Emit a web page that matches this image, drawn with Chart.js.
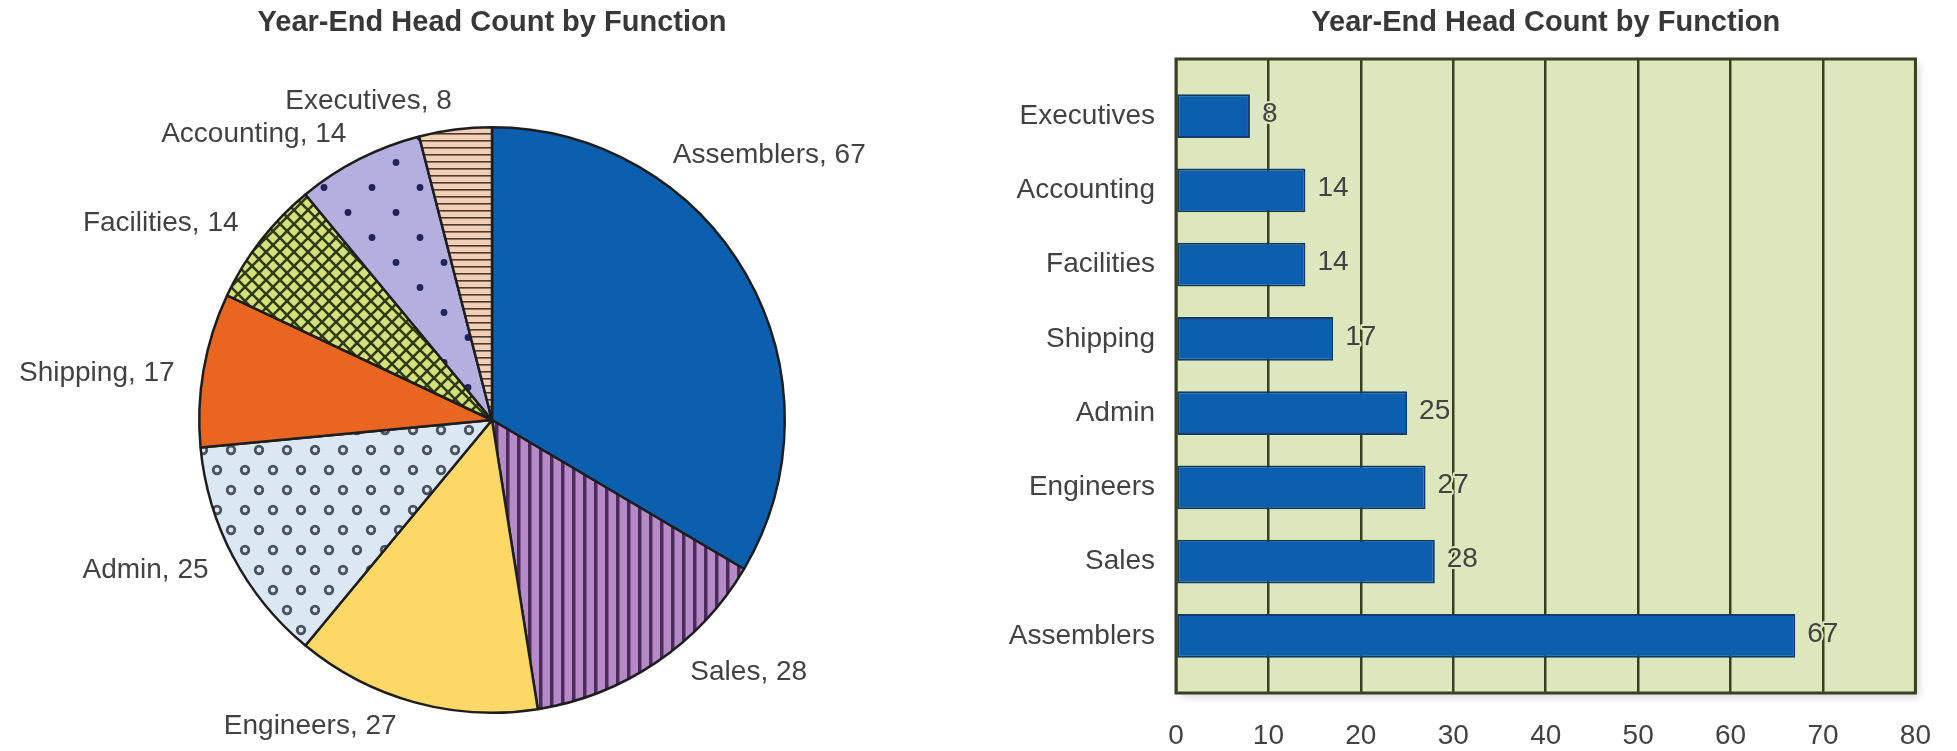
<!DOCTYPE html>
<html>
<head>
<meta charset="utf-8">
<title>Year-End Head Count by Function</title>
<script src="https://cdn.jsdelivr.net/npm/chart.js@4"></script>
<style>
  html, body { margin: 0; padding: 0; background: #fff; overflow: hidden; }
  #page   { position: relative; width: 1957px; height: 751px; }
  .box    { position: absolute; top: 0; height: 751px; }
  #pieBox { left: 0; width: 980px; }
  #barBox { left: 980px; width: 977px; }
</style>
</head>
<body>
<div id="page">
  <div class="box" id="pieBox"><canvas id="pieChart"></canvas></div>
  <div class="box" id="barBox"><canvas id="barChart"></canvas></div>
</div>
<script>
// Data
const TITLE      = 'Year-End Head Count by Function';
const CATEGORIES = ['Assemblers', 'Sales', 'Engineers', 'Admin', 'Shipping', 'Facilities', 'Accounting', 'Executives'];
const HEADCOUNT  = [67, 28, 27, 25, 17, 14, 14, 8];
const X_MIN  = 0;
const X_MAX  = 80;
const X_STEP = 10;

// bar chart lists top to bottom, i.e. the pie order reversed
const BAR_LABELS = [...CATEGORIES].reverse();
const BAR_VALUES = [...HEADCOUNT].reverse();

// Styles
const FONT    = '"Liberation Sans", Arial, Helvetica, sans-serif';
const FONT_PX = 28;
const TEXT    = '#424242';
const PLOT_BG = '#dce7bd';
const GRID    = '#37411f';
const FRAME   = '#3a4121';
const CAT_PAD = 0.27;   // extra space above first / below last bar, in categories

// label angle tweaks (degrees) so the pie labels sit where the original has them
const PIE_LABEL_NUDGE = [-26, -4, 2, 0, -1.5, 0, 0, 0];

Chart.defaults.font.family = FONT;
Chart.defaults.font.size   = FONT_PX;
Chart.defaults.color       = TEXT;

// Fill patterns
function pattern(w, h, bg, draw) {
  const c = document.createElement('canvas');
  c.width = w; c.height = h;
  const g = c.getContext('2d');
  g.fillStyle = bg;
  g.fillRect(0, 0, w, h);
  if (draw) draw(g, w, h);
  return g.createPattern(c, 'repeat');
}

const vStripes = pattern(11, 4, '#b68ac7', g => {
  g.fillStyle = '#4b2a5c';
  g.fillRect(0, 0, 3.5, 4);
});

const hStripes = pattern(4, 7, '#f0cfb6', g => {
  g.fillStyle = '#4e3a2c';
  g.fillRect(0, 0, 4, 1.6);
});

const crossHatch = pattern(14, 14, '#d4e07c', (g, s) => {
  g.strokeStyle = '#2f3b14';
  g.lineWidth = 2.6;
  [-s, 0, s].forEach(k => {
    g.beginPath(); g.moveTo(k, 0);     g.lineTo(k + s, s); g.stroke();
    g.beginPath(); g.moveTo(k + s, 0); g.lineTo(k, s);     g.stroke();
  });
});

const rings = pattern(28, 40, '#dce7f4', g => {
  g.strokeStyle = '#4a5460';
  g.lineWidth = 2.8;
  [[7, 10], [21, 30]].forEach(([x, y]) => {
    g.beginPath(); g.arc(x, y, 3.8, 0, Math.PI * 2); g.stroke();
  });
});

const dots = pattern(48, 50, '#b3b0df', g => {
  g.fillStyle = '#22225c';
  [[12, 12.5], [36, 37.5]].forEach(([x, y]) => {
    g.beginPath(); g.arc(x, y, 3.4, 0, Math.PI * 2); g.fill();
  });
});

const PIE_FILLS = ['#0b5fae', vStripes, '#fcd966', rings, '#e8661f', crossHatch, dots, hStripes];

// Plugins
const chartTitle = {
  id: 'chartTitle',
  afterDraw(chart) {
    const { ctx, chartArea: a } = chart;
    ctx.save();
    ctx.font = `bold 29px ${FONT}`;
    ctx.fillStyle = '#383838';
    ctx.textAlign = 'center';
    ctx.textBaseline = 'middle';
    ctx.fillText(TITLE, (a.left + a.right) / 2, 23);
    ctx.restore();
  }
};

const pieLabels = {
  id: 'pieLabels',
  afterDatasetsDraw(chart) {
    const { ctx } = chart;
    const ds = chart.data.datasets[0];
    ctx.save();
    ctx.font = `${FONT_PX}px ${FONT}`;
    ctx.fillStyle = TEXT;
    ctx.textBaseline = 'middle';
    chart.getDatasetMeta(0).data.forEach((arc, i) => {
      const { x, y, startAngle, endAngle, outerRadius } =
        arc.getProps(['x', 'y', 'startAngle', 'endAngle', 'outerRadius'], true);
      const mid = (startAngle + endAngle) / 2 + (PIE_LABEL_NUDGE[i] || 0) * Math.PI / 180;
      const r   = outerRadius + 28;
      ctx.textAlign = Math.cos(mid) >= 0 ? 'left' : 'right';
      ctx.fillText(`${chart.data.labels[i]}, ${ds.data[i]}`, x + Math.cos(mid) * r, y + Math.sin(mid) * r);
    });
    ctx.restore();
  }
};

const plotFrame = {
  id: 'plotFrame',
  beforeDraw(chart) {
    const { ctx, chartArea: a } = chart;
    ctx.save();
    ctx.shadowColor   = 'rgba(0,0,0,0.16)';
    ctx.shadowBlur    = 8;
    ctx.shadowOffsetX = 4;
    ctx.shadowOffsetY = 4;
    ctx.fillStyle = PLOT_BG;
    ctx.fillRect(a.left, a.top, a.width, a.height);
    ctx.restore();
  },
  afterDatasetsDraw(chart) {
    const { ctx, chartArea: a } = chart;
    ctx.save();
    ctx.strokeStyle = FRAME;
    ctx.lineWidth = 3;
    ctx.strokeRect(a.left, a.top, a.width, a.height);
    ctx.restore();
  }
};

const barValues = {
  id: 'barValues',
  afterDatasetsDraw(chart) {
    const { ctx } = chart;
    const ds = chart.data.datasets[0];
    ctx.save();
    ctx.font = `${FONT_PX}px ${FONT}`;
    ctx.textAlign = 'left';
    ctx.textBaseline = 'middle';
    ctx.lineJoin = 'round';
    chart.getDatasetMeta(0).data.forEach((bar, i) => {
      const tx = bar.x + 12, ty = bar.y - 2;
      ctx.strokeStyle = PLOT_BG;
      ctx.lineWidth = 4;
      ctx.strokeText(String(ds.data[i]), tx, ty);
      ctx.fillStyle = TEXT;
      ctx.fillText(String(ds.data[i]), tx, ty);
    });
    ctx.restore();
  }
};

// Pie
new Chart(document.getElementById('pieChart'), {
  type: 'pie',
  data: {
    labels: CATEGORIES,
    datasets: [{ data: HEADCOUNT, backgroundColor: PIE_FILLS, borderColor: '#1e1e1e', borderWidth: 2.5 }]
  },
  options: {
    responsive: true,
    maintainAspectRatio: false,
    animation: false,
    events: [],
    layout: { padding: { left: 198, right: 194, top: 126, bottom: 37 } },
    plugins: { legend: { display: false }, tooltip: { enabled: false } }
  },
  plugins: [pieLabels, chartTitle]
});

// Bars
new Chart(document.getElementById('barChart'), {
  type: 'bar',
  data: {
    labels: BAR_LABELS,
    datasets: [{
      data: BAR_VALUES,
      backgroundColor: '#0b5fae',
      borderColor: '#173b66',
      borderWidth: 2,
      borderSkipped: false,
      barPercentage: 0.59,
      categoryPercentage: 1
    }]
  },
  options: {
    indexAxis: 'y',
    responsive: true,
    maintainAspectRatio: false,
    animation: false,
    events: [],
    layout: { padding: { top: 59, right: 29, bottom: 0, left: 0 } },
    plugins: { legend: { display: false }, tooltip: { enabled: false } },
    scales: {
      x: {
        min: X_MIN,
        max: X_MAX,
        ticks: { stepSize: X_STEP, padding: 26, color: TEXT },
        grid: { color: GRID, lineWidth: 2.5, drawTicks: false },
        border: { display: false },
        afterFit(s) { s.height = 58; }
      },
      y: {
        ticks: { padding: 21, color: TEXT },
        grid: { display: false, drawTicks: false },
        border: { display: false },
        afterFit(s) { s.width = 196; },
        afterBuildTicks(s) {
          s._startValue -= CAT_PAD;
          s._valueRange += CAT_PAD * 2;
        }
      }
    }
  },
  plugins: [plotFrame, barValues, chartTitle]
});
</script>
</body>
</html>
